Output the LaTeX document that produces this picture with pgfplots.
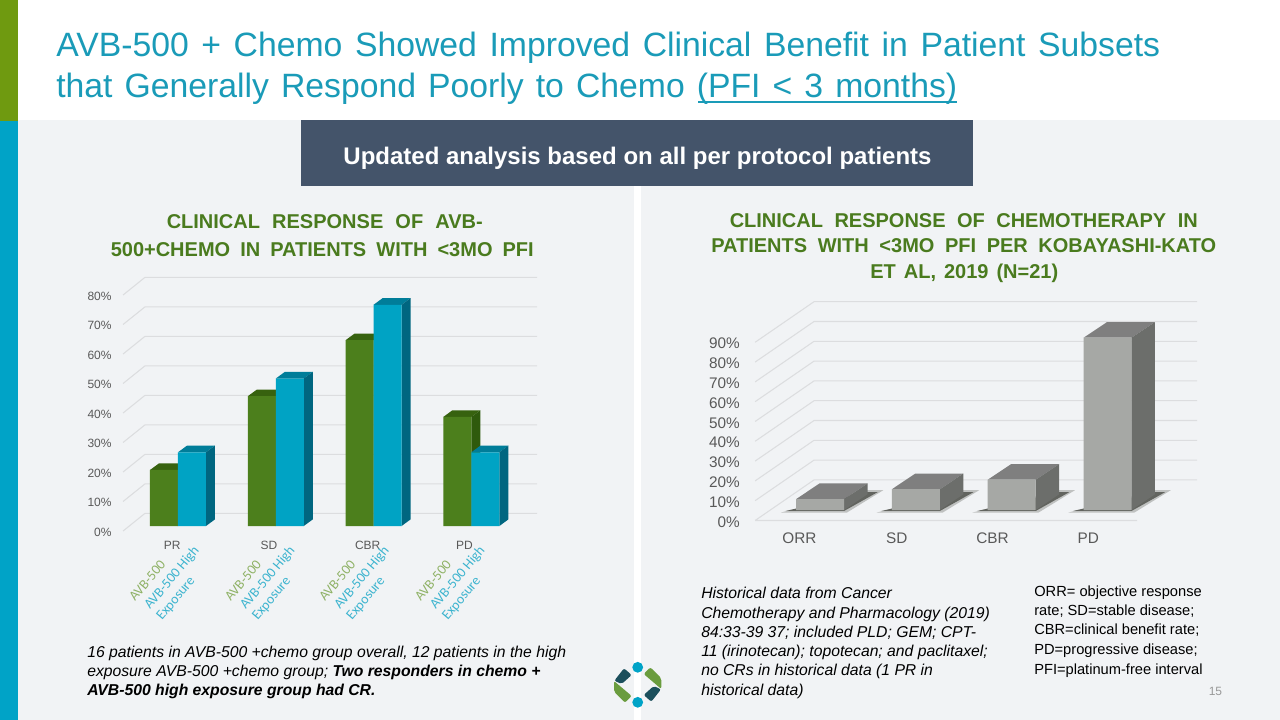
\documentclass[border=0pt]{standalone}
\usepackage{pgfplots}
\pgfplotsset{compat=1.18}
\usepackage{fontspec}
\setmainfont{Liberation Sans}
\newfontfamily\carlito{Carlito}

\newlength\pxu
\setlength\pxu{0.75pt}

\definecolor{olivebar}{HTML}{6F9A10}
\definecolor{tealbar}{HTML}{00A3C7}
\definecolor{panel}{HTML}{F1F3F5}
\definecolor{slate}{HTML}{44546A}
\definecolor{titleblue}{HTML}{1A9BB8}
\definecolor{titlegreen}{HTML}{4A7B1E}
\definecolor{gridc}{HTML}{DCDDDF}
\definecolor{labelc}{HTML}{595959}
\definecolor{greenF}{HTML}{4C7F1C}
\definecolor{greenT}{HTML}{37620F}
\definecolor{greenS}{HTML}{2F5A0D}
\definecolor{blueF}{HTML}{00A3C4}
\definecolor{blueT}{HTML}{007D99}
\definecolor{blueS}{HTML}{006680}
\definecolor{greyF}{HTML}{A6A8A5}
\definecolor{greyT}{HTML}{7F7F7F}
\definecolor{greyS}{HTML}{6C6E6B}
\definecolor{greyD}{HTML}{62645F}
\definecolor{lblgreen}{HTML}{8FB266}
\definecolor{lblblue}{HTML}{3DB4CF}
\definecolor{logoG}{HTML}{6A9C3E}
\definecolor{logoD}{HTML}{1B4F5C}

% top and side face of a bar: x0, x1, value, depth x, depth y, colours
\newcommand{\faces}[7]{%
  \pgfmathsetmacro\fxa{#1+#4}%
  \pgfmathsetmacro\fxb{#2+#4}%
  \pgfmathsetmacro\fya{#3+#5}%
  \edef\temp{\noexpand\addplot[fill=#6,draw=none,forget plot] coordinates {(#1,#3)(#2,#3)(\fxb,\fya)(\fxa,\fya)};
    \noexpand\addplot[fill=#7,draw=none,forget plot] coordinates {(#2,0)(\fxb,#5)(\fxb,\fya)(#2,#3)};}%
  \temp
}

\pgfplotsset{slide axis/.style={
  scale only axis,
  clip=false,
  enlargelimits=false,
  axis line style={draw=none},
  tick style={draw=none},
  major tick length=0pt,
  tick label style={text=labelc,inner sep=0pt},
}}
\tikzset{
  px/.style={x=0.75pt,y=-0.75pt},
  txt/.style={anchor=base west,inner sep=0pt},
  mid/.style={anchor=base,inner sep=0pt},
}

\begin{document}
\begin{tikzpicture}
\path[use as bounding box] (0pt,0pt) rectangle (960pt,-540pt);
\begin{scope}[px]
\fill[white] (0,0) rectangle (1280,720);
\fill[panel] (18,120) rectangle (1280,720);
\fill[white] (634,186) rectangle (641,720);
\fill[olivebar] (0,0) rectangle (18,121.5);
\fill[tealbar] (0,121.5) rectangle (18,720);
\fill[slate] (301,120) rectangle (973,186);

\node[mid,text=white,font=\fontsize{18}{22}\selectfont\bfseries] at (637.5,164.5) {Updated analysis based on all per protocol patients};

\node[txt,text=titleblue,font=\fontsize{25.3}{30}\selectfont] at (56,56.5) {\makebox[1104\pxu][s]{AVB-500 + Chemo Showed Improved Clinical Benefit in Patient Subsets}};
\node[txt,text=titleblue,font=\fontsize{25.3}{30}\selectfont] at (56,97.5) {\makebox[901\pxu][s]{that Generally Respond Poorly to Chemo (PFI < 3 months)}};
\draw[titleblue,line width=1.5pt] (698,102) -- (957,102);

\begin{scope}[every node/.append style={text=titlegreen,font=\fontsize{15}{18}\selectfont\bfseries}]
\node[txt] at (166.5,228.5) {\makebox[316\pxu][s]{CLINICAL RESPONSE OF AVB-}};
\node[txt] at (110.5,256.5) {\makebox[423\pxu][s]{500+CHEMO IN PATIENTS WITH <3MO PFI}};
\node[txt] at (729.5,227.5) {\makebox[468\pxu][s]{CLINICAL RESPONSE OF CHEMOTHERAPY IN}};
\node[txt] at (711,252.5) {\makebox[505\pxu][s]{PATIENTS WITH <3MO PFI PER KOBAYASHI-KATO}};
\node[txt] at (870,278) {\makebox[188\pxu][s]{ET AL, 2019 (N=21)}};
\end{scope}
\end{scope}

% left chart
\begin{axis}[slide axis,
  at={(86.55pt,-398.93pt)},anchor=south west,
  width=318.34pt,height=192.49pt,
  xmin=-0.64,xmax=3.7,ymin=-2,ymax=85,
  xtick={-0.06,0.93,1.94,2.93},
  xticklabels={PR,SD,CBR,PD},
  ytick={-1.7,8.3,18.3,28.3,38.3,48.3,58.3,68.3,78.3},
  yticklabels={0\%,10\%,20\%,30\%,40\%,50\%,60\%,70\%,80\%},
  tick label style={font=\fontsize{9}{11}\selectfont},
  xticklabel style={anchor=north,yshift=-7pt},
  yticklabel style={anchor=east,xshift=-2.7pt,yshift=-0.7pt},
]
\addplot[gridc,line width=0.8pt,unbounded coords=jump,forget plot] coordinates {
 (-0.562,-1.7)(-0.337,4.3)(3.671,4.3)(0,nan)
 (-0.562,8.3)(-0.337,14.3)(3.671,14.3)(0,nan)
 (-0.562,18.3)(-0.337,24.3)(3.671,24.3)(0,nan)
 (-0.562,28.3)(-0.337,34.3)(3.671,34.3)(0,nan)
 (-0.562,38.3)(-0.337,44.3)(3.671,44.3)(0,nan)
 (-0.562,48.3)(-0.337,54.3)(3.671,54.3)(0,nan)
 (-0.562,58.3)(-0.337,64.3)(3.671,64.3)(0,nan)
 (-0.562,68.3)(-0.337,74.3)(3.671,74.3)(0,nan)
 (-0.562,78.3)(-0.337,84.3)(3.671,84.3)
};
% AVB-500
\faces{-0.286}{0}{19}{0.092}{2.24}{greenT}{greenS}
\faces{0.714}{1}{44}{0.092}{2.24}{greenT}{greenS}
\faces{1.714}{2}{63}{0.092}{2.24}{greenT}{greenS}
\faces{2.714}{3}{37}{0.092}{2.24}{greenT}{greenS}
\addplot[ybar,bar width=21pt,bar shift=-10.5pt,fill=greenF,draw=none] coordinates {(0,19)(1,44)(2,63)(3,37)};
% AVB-500 High Exposure
\faces{0}{0.286}{25}{0.092}{2.24}{blueT}{blueS}
\faces{1}{1.286}{50}{0.092}{2.24}{blueT}{blueS}
\faces{2}{2.286}{75}{0.092}{2.24}{blueT}{blueS}
\faces{3}{3.286}{25}{0.092}{2.24}{blueT}{blueS}
\addplot[ybar,bar width=21pt,bar shift=10.5pt,fill=blueF,draw=none] coordinates {(0,25)(1,50)(2,75)(3,25)};
\end{axis}

% right chart
\begin{axis}[slide axis,
  at={(557.55pt,-391.41pt)},anchor=south west,
  width=342.8pt,height=166.32pt,
  xmin=-0.8,xmax=3.97,ymin=-6,ymax=106,
  xtick={-0.215,0.8,1.8,2.8},
  xticklabels={ORR,SD,CBR,PD},
  ytick={-5.3,4.7,14.7,24.7,34.7,44.7,54.7,64.7,74.7,84.7},
  yticklabels={0\%,10\%,20\%,30\%,40\%,50\%,60\%,70\%,80\%,90\%},
  tick label style={font=\fontsize{11.5}{14}\selectfont},
  xticklabel style={anchor=north,yshift=-8pt},
  yticklabel style={anchor=east,xshift=-2.5pt,yshift=-1pt},
]
\addplot[gridc,line width=0.8pt,unbounded coords=jump,forget plot] coordinates {
 (-0.678,-5.3)(3.309,-5.3)(0,nan)
 (-0.678,4.7)(-0.063,25.2)(3.935,25.2)(0,nan)
 (-0.678,14.7)(-0.063,35.2)(3.935,35.2)(0,nan)
 (-0.678,24.7)(-0.063,45.2)(3.935,45.2)(0,nan)
 (-0.678,34.7)(-0.063,55.2)(3.935,55.2)(0,nan)
 (-0.678,44.7)(-0.063,65.2)(3.935,65.2)(0,nan)
 (-0.678,54.7)(-0.063,75.2)(3.935,75.2)(0,nan)
 (-0.678,64.7)(-0.063,85.2)(3.935,85.2)(0,nan)
 (-0.678,74.7)(-0.063,95.2)(3.935,95.2)(0,nan)
 (-0.678,84.7)(-0.063,105.2)(3.935,105.2)(0,nan)
 (-0.678,-5.3)(-0.063,15.2)(3.935,15.2)
};
% bar shadows on the floor, soft edge first
\addplot[fill=greyD,fill opacity=0.35,draw=none,forget plot] coordinates {(-0.41,-1.3)(0.28,-1.3)(0.66,10)(0.49,10)};
\addplot[fill=greyD,fill opacity=0.35,draw=none,forget plot] coordinates {(0.59,-1.3)(1.28,-1.3)(1.66,10)(1.49,10)};
\addplot[fill=greyD,fill opacity=0.35,draw=none,forget plot] coordinates {(1.59,-1.3)(2.28,-1.3)(2.66,10)(2.49,10)};
\addplot[fill=greyD,fill opacity=0.35,draw=none,forget plot] coordinates {(2.59,-1.3)(3.28,-1.3)(3.66,10)(3.49,10)};
\addplot[fill=greyD,draw=none,forget plot] coordinates {(-0.36,-0.5)(0.25,-0.5)(0.6,9)(0.495,9)};
\addplot[fill=greyD,draw=none,forget plot] coordinates {(0.64,-0.5)(1.25,-0.5)(1.6,9)(1.495,9)};
\addplot[fill=greyD,draw=none,forget plot] coordinates {(1.64,-0.5)(2.25,-0.5)(2.6,9)(2.495,9)};
\addplot[fill=greyD,draw=none,forget plot] coordinates {(2.64,-0.5)(3.25,-0.5)(3.6,9)(3.495,9)};
\faces{-0.25}{0.25}{5.5}{0.245}{7.93}{greyT}{greyS}
\faces{0.75}{1.25}{10.5}{0.245}{7.93}{greyT}{greyS}
\faces{1.75}{2.25}{15.3}{0.245}{7.93}{greyT}{greyS}
\faces{2.75}{3.25}{87}{0.245}{7.93}{greyT}{greyS}
\addplot[ybar,bar width=36pt,fill=greyF,draw=none] coordinates {(0,5.5)(1,10.5)(2,15.3)(3,87)};
\end{axis}

\begin{scope}[px]
\foreach \dx in {0,95.7,190,285.7}{
  \node[txt,rotate=50,text=lblgreen,font=\fontsize{10.4}{13}\selectfont\carlito] at (135+\dx,602) {AVB-500};
  \node[txt,rotate=50,text=lblblue,font=\fontsize{10.4}{13}\selectfont\carlito] at (150+\dx,610) {AVB-500 High};
  \node[txt,rotate=50,text=lblblue,font=\fontsize{10.4}{13}\selectfont\carlito] at (162+\dx,621) {Exposure};
}

% notes
\begin{scope}[every node/.append style={text=black,font=\fontsize{11.8}{14}\selectfont\itshape}]
\node[txt] at (87,657) {16 patients in AVB-500 +chemo group overall, 12 patients in the high};
\node[txt] at (87,676) {exposure AVB-500 +chemo group; \textbf{Two responders in chemo +}};
\node[txt] at (87,695) {\textbf{AVB-500 high exposure group had CR.}};
\node[txt] at (701,598) {Historical data from Cancer};
\node[txt] at (701,618) {Chemotherapy and Pharmacology (2019)};
\node[txt] at (701,637) {84:33-39 37; included PLD; GEM; CPT-};
\node[txt] at (701,656) {11 (irinotecan); topotecan; and paclitaxel;};
\node[txt] at (701,675) {no CRs in historical data (1 PR in};
\node[txt] at (701,695) {historical data)};
\end{scope}
\begin{scope}[every node/.append style={text=black,font=\fontsize{11}{13}\selectfont}]
\node[txt] at (1034,596) {ORR= objective response};
\node[txt] at (1034,615) {rate; SD=stable disease;};
\node[txt] at (1034,634) {CBR=clinical benefit rate;};
\node[txt] at (1034,654.5) {PD=progressive disease;};
\node[txt] at (1034,674) {PFI=platinum-free interval};
\end{scope}
\node[txt,text=gray!80,font=\fontsize{9}{11}\selectfont] at (1208.5,695) {15};

% logo
\fill[logoD,rounded corners=1.5] (614.3,680.7)--(624,668.3)--(631.7,675)--(621.7,684)--cycle;
\fill[logoD,rounded corners=1.5] (661,689.3)--(651.3,701.7)--(643.7,695)--(653.7,686)--cycle;
\fill[logoG,rounded corners=1.5] (614,681)--(631.7,696)--(625,702.7)--(614,691.7)--cycle;
\fill[logoG,rounded corners=1.5] (661.3,689)--(643.7,674)--(650.3,667.3)--(661.3,678.3)--cycle;
\fill[tealbar] (637.7,667.3) circle (5.4);
\fill[tealbar] (637.7,702.3) circle (5.4);
\end{scope}
\end{tikzpicture}
\end{document}
